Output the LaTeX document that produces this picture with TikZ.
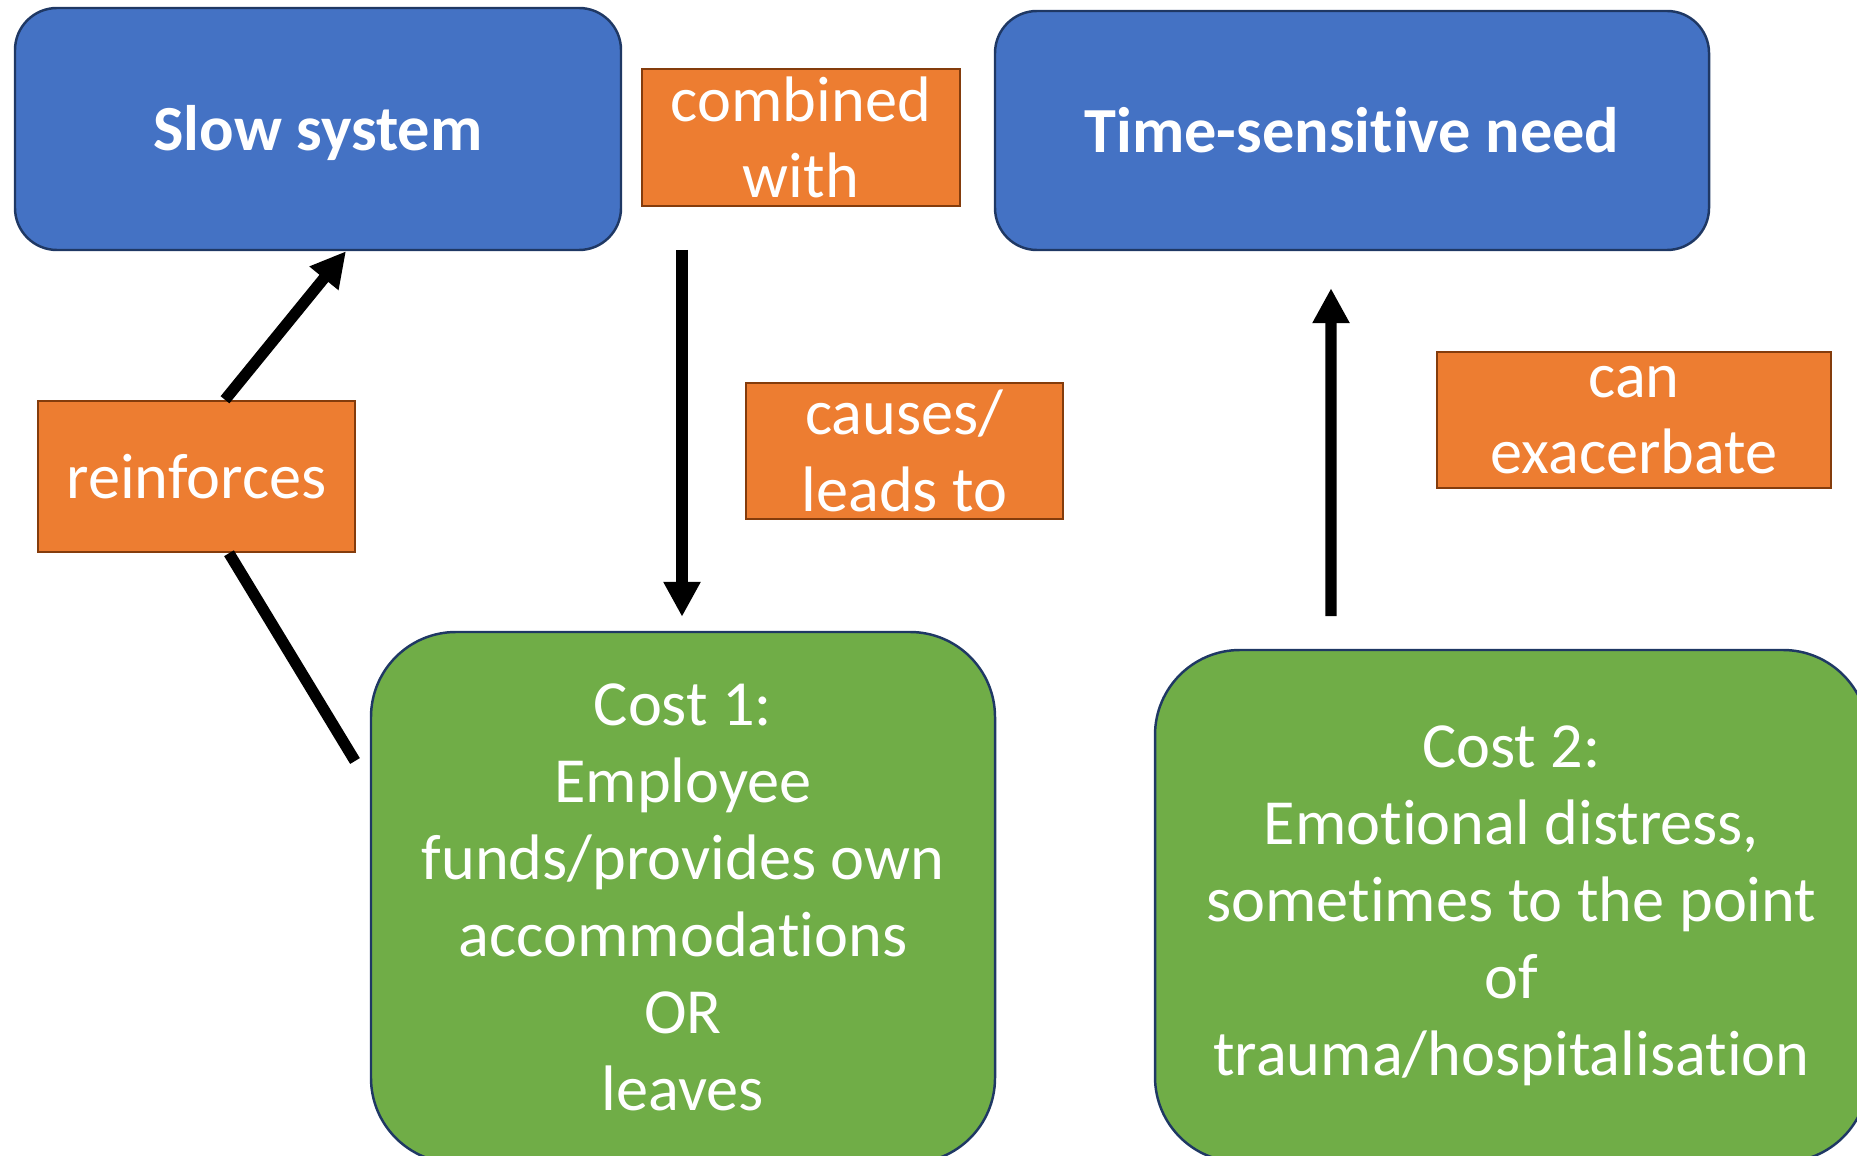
\documentclass[tikz,border=0pt]{standalone}
\usepackage{fontspec}
\setmainfont{Carlito}[Ligatures=NoCommon]
\usetikzlibrary{arrows.meta}
\definecolor{boxblue}{HTML}{4472C4}
\definecolor{boxgreen}{HTML}{70AD47}
\definecolor{boxorange}{HTML}{ED7D31}
\definecolor{edgenavy}{HTML}{1F3864}
\definecolor{edgebrown}{HTML}{843C0C}
\tikzset{
	bluebox/.style={draw=edgenavy, line width=0.7pt, fill=boxblue, rounded corners=0.42cm, inner sep=0pt, text=white, text height=0.55cm, text depth=0.11cm, font=\bfseries\fontsize{18.3}{21.8}\selectfont},
	greenbox/.style={draw=edgenavy, line width=0.7pt, fill=boxgreen, rounded corners=0.85cm, inner sep=0pt, text=white, align=center, font=\fontsize{18.3}{21.9}\selectfont},
	orangebox/.style={draw=edgebrown, line width=0.7pt, fill=boxorange, inner sep=0pt, text=white, align=center, font=\fontsize{18.3}{21.8}\selectfont},
	flowarrow/.style={line width=0.113cm, -{Triangle[length=0.35cm,width=0.35cm]}},
	flowline/.style={line width=0.113cm}
}
\begin{document}
\begin{tikzpicture}
			%%%%% START %%%%%
			\clip (0, 0) rectangle (18.57, -11.55);
			
			\node[bluebox, minimum width=6.06cm, minimum height=2.42cm] (slow) at (3.18, -1.29) {Slow system};
			\node[orangebox, minimum width=3.18cm, minimum height=1.37cm] (combined) at (8.01, -1.375) {combined\\with};
			\node[bluebox, minimum width=7.14cm, minimum height=2.39cm] (need) at (13.52, -1.305) {Time-sensitive need};
			
			\node[orangebox, minimum width=3.17cm, minimum height=1.51cm] (reinf) at (1.965, -4.765) {reinforces};
			\node[orangebox, minimum width=3.17cm, minimum height=1.36cm] (causes) at (9.045, -4.51) {causes/\\leads to};
			\node[orangebox, minimum width=3.94cm, minimum height=1.36cm] (exacer) at (16.34, -4.20) {can\\exacerbate};
			
			\node[greenbox, minimum width=6.24cm, minimum height=5.31cm] (cost1) at (6.83, -8.975) {Cost 1:\\Employee\\funds/provides own\\accommodations\\OR\\leaves};
			\node[greenbox, minimum width=7.13cm, minimum height=5.12cm] (cost2) at (15.115, -9.06) {Cost 2:\\Emotional distress,\\sometimes to the point\\of\\trauma/hospitalisation};
			
			\coordinate (dtop) at (6.82, -2.50);
			\draw[flowarrow] (dtop) -- ([xshift=-0.01cm, yshift=0.14cm]cost1.north);
			
			\coordinate (ubot) at (13.31, -6.16);
			\draw[flowarrow] (ubot) -- ([xshift=-0.21cm, yshift=-0.37cm]need.south);
			
			\draw[flowarrow] ([xshift=0.285cm]reinf.north) -- ([xshift=0.28cm]slow.south);
			\coordinate (lend) at (3.55, -7.61);
			\draw[flowline] ([xshift=0.325cm]reinf.south) -- (lend);
			
			%%%%% END %%%%%
\end{tikzpicture}
\end{document}
